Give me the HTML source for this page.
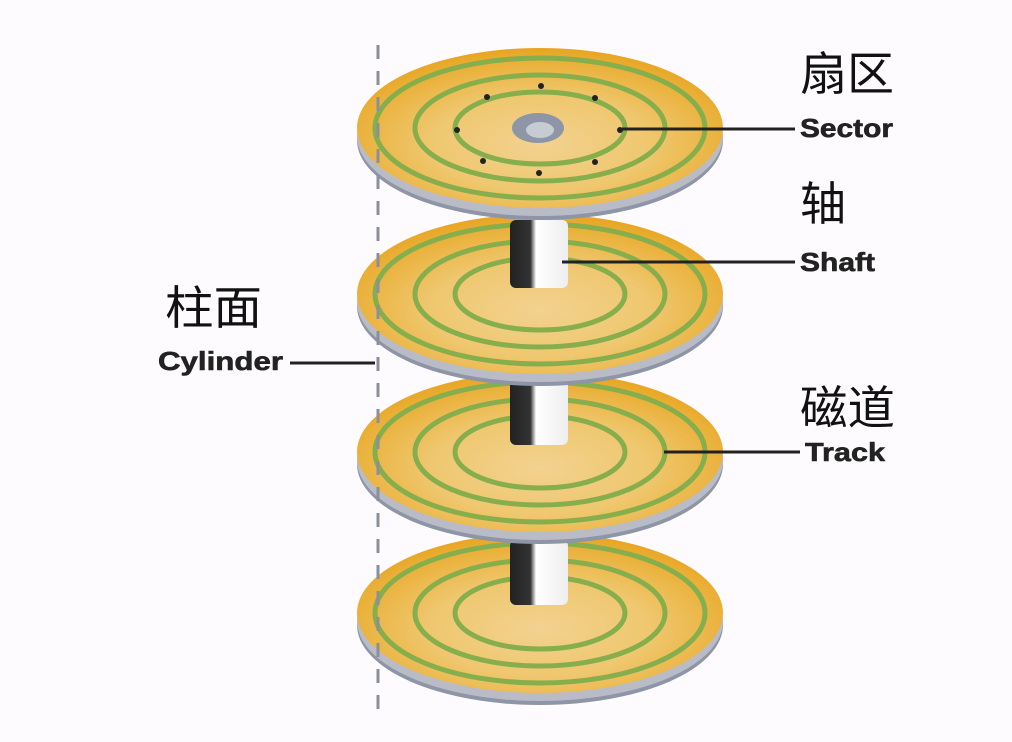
<!DOCTYPE html>
<html><head><meta charset="utf-8"><style>
html,body{margin:0;padding:0;background:#fdfbfe;}
svg{display:block}
.cn{font-family:"Liberation Sans","Noto Sans CJK SC",sans-serif;font-size:46px;fill:#111}
.en{font-family:"Liberation Sans",sans-serif;font-size:26px;font-weight:bold;fill:#222;stroke:#222;stroke-width:0.6}
</style></head><body>
<svg width="1012" height="742" viewBox="0 0 1012 742" xmlns="http://www.w3.org/2000/svg">
<defs>
<radialGradient id="g" cx="50%" cy="60%" r="60%">
<stop offset="0" stop-color="#f2d290"/><stop offset="0.5" stop-color="#efc76f"/><stop offset="0.85" stop-color="#eab13a"/><stop offset="1" stop-color="#e8a420"/>
</radialGradient>
<linearGradient id="sh" x1="0" x2="1">
<stop offset="0" stop-color="#222"/><stop offset="0.35" stop-color="#333"/><stop offset="0.45" stop-color="#fff"/><stop offset="1" stop-color="#eee"/>
</linearGradient>
<g id="disk">
<ellipse cx="0" cy="12" rx="183" ry="80" fill="#8d95a6"/>
<ellipse cx="0" cy="8" rx="183" ry="80" fill="#b9bcc6"/>
<ellipse cx="0" cy="0" rx="183" ry="80" fill="url(#g)"/>
<g fill="none" stroke="#86ae4c" stroke-width="5">
<ellipse rx="165" ry="70"/><ellipse rx="125" ry="53"/><ellipse rx="85" ry="36"/>
</g>
</g>
</defs>
<use href="#disk" x="540" y="613"/>
<rect x="510" y="540" width="58" height="65" rx="6" fill="url(#sh)"/>
<use href="#disk" x="540" y="452"/>
<rect x="510" y="380" width="58" height="65" rx="6" fill="url(#sh)"/>
<use href="#disk" x="540" y="294"/>
<rect x="510" y="220" width="58" height="68" rx="6" fill="url(#sh)"/>
<use href="#disk" x="540" y="128"/>
<ellipse cx="538" cy="128" rx="26" ry="15" fill="#8d95a6"/>
<ellipse cx="540" cy="130" rx="14" ry="8" fill="#c6ccd2"/>
<line x1="378" y1="45" x2="378" y2="712" stroke="#8a8f9a" stroke-width="3" stroke-dasharray="14,12"/>
<g fill="#222">
<circle cx="457" cy="130" r="3"/><circle cx="620" cy="130" r="3"/><circle cx="541" cy="86" r="3"/><circle cx="539" cy="173" r="3"/>
<circle cx="487" cy="97" r="3"/><circle cx="595" cy="98" r="3"/><circle cx="483" cy="161" r="3"/><circle cx="595" cy="162" r="3"/>
</g>
<g stroke="#222" stroke-width="3">
<line x1="622" y1="129" x2="795" y2="129"/>
<line x1="562" y1="262" x2="795" y2="262"/>
<line x1="290" y1="363" x2="375" y2="363"/>
<line x1="664" y1="452" x2="800" y2="452"/>
</g>
<text class="cn" x="800" y="90" textLength="94" lengthAdjust="spacingAndGlyphs">扇区</text>
<text class="en" x="800" y="137" textLength="93" lengthAdjust="spacingAndGlyphs">Sector</text>
<text class="cn" x="800" y="220">轴</text>
<text class="en" x="800" y="271" textLength="75" lengthAdjust="spacingAndGlyphs">Shaft</text>
<text class="cn" x="165" y="324" textLength="97" lengthAdjust="spacingAndGlyphs">柱面</text>
<text class="en" x="158" y="370" textLength="125" lengthAdjust="spacingAndGlyphs">Cylinder</text>
<text class="cn" x="800" y="424" textLength="95" lengthAdjust="spacingAndGlyphs">磁道</text>
<text class="en" x="805" y="461" textLength="80" lengthAdjust="spacingAndGlyphs">Track</text>
</svg>
</body></html>
